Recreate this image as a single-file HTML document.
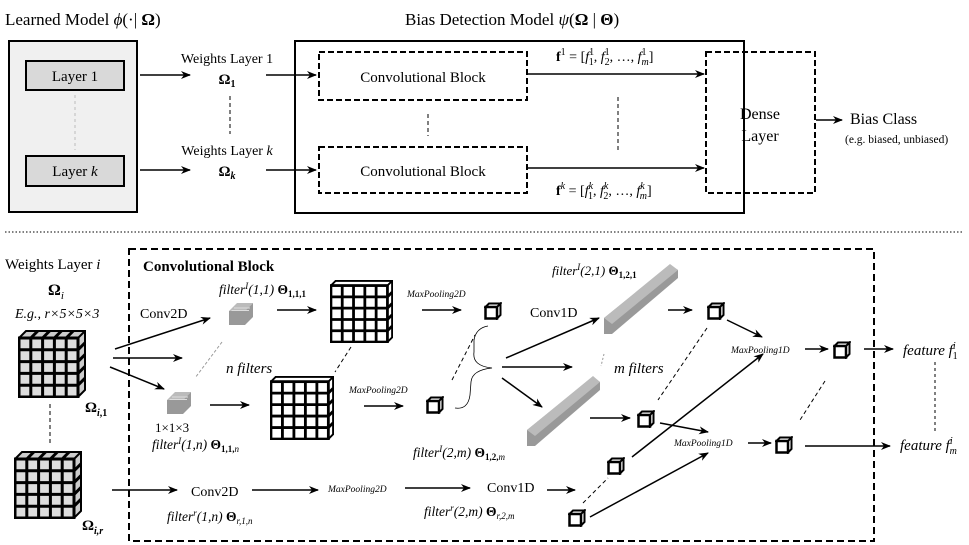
<!DOCTYPE html>
<html><head><meta charset="utf-8"><style>
html,body{margin:0;padding:0;background:#fff;}
svg{display:block;font-family:"Liberation Serif",serif;}
.i{font-style:italic}
</style></head><body>
<svg width="969" height="545" viewBox="0 0 969 545" xmlns="http://www.w3.org/2000/svg">
<defs>
<marker id="a" markerWidth="10" markerHeight="8" refX="9" refY="4" orient="auto" markerUnits="userSpaceOnUse"><path d="M0,0 L10,4 L0,8 L3,4z" fill="#000"/></marker>
<symbol id="big" viewBox="0 0 68 68">
<path d="M1,8 L8,1 L67,1 L60,8z M60,8 L67,1 L67,60 L60,67z" fill="#ccc" stroke="#000" stroke-width="2"/>
<rect x="1" y="8" width="59" height="59" fill="#ddd" stroke="#000" stroke-width="3"/>
<path d="M12.8,8V67M24.6,8V67M36.4,8V67M48.2,8V67M1,19.8H60M1,31.6H60M1,43.4H60M1,55.2H60M60,19.8L67,12.8M60,31.6L67,24.6M60,43.4L67,36.4M60,55.2L67,48.2M12.8,8L19.8,1M24.6,8L31.6,1M36.4,8L43.4,1M48.2,8L55.2,1" stroke="#000" stroke-width="3"/>
</symbol>
<symbol id="grid" viewBox="0 0 68 68">
<path d="M1,6 L6,1 L67,1 L62,6z M62,6 L67,1 L67,62 L62,67z" fill="#fff" stroke="#000" stroke-width="2"/>
<rect x="1" y="6" width="61" height="61" fill="#fff" stroke="#000" stroke-width="3"/>
<path d="M13.2,6V67M25.4,6V67M37.6,6V67M49.8,6V67M1,18.2H62M1,30.4H62M1,42.6H62M1,54.8H62M62,18.2L67,13.2M62,30.4L67,25.4M62,42.6L67,37.6M62,54.8L67,49.8" stroke="#000" stroke-width="3"/>
</symbol>
<symbol id="sc" viewBox="0 0 18 18">
<path d="M1.5,5 L5,1.5 L16.5,1.5 L13,5z M13,5 L16.5,1.5 L16.5,13 L13,16.5z" fill="#fff" stroke="#000" stroke-width="2"/>
<rect x="1.5" y="5" width="11.5" height="11.5" fill="#fff" stroke="#000" stroke-width="2.5"/>
</symbol>
<symbol id="gf" viewBox="0 0 26 24">
<path d="M1,9 L9,1 L25,1 L17,9z" fill="#bbb"/><path d="M17,9 L25,1 L25,15 L17,23z" fill="#999"/>
<rect x="1" y="9" width="16" height="14" fill="#999"/>
<path d="M6,6 L22,6 M3.5,8.5 L21,8.5" stroke="#ddd" stroke-width="1"/>
</symbol>
</defs>
<!-- TOP -->
<text x="5" y="25" font-size="17">Learned Model <tspan class="i">ϕ</tspan>(·| <tspan font-weight="bold">Ω</tspan>)</text>
<text x="405" y="25" font-size="17">Bias Detection Model <tspan class="i">ψ</tspan>(<tspan font-weight="bold">Ω</tspan> | <tspan font-weight="bold">Θ</tspan>)</text>
<rect x="9" y="41" width="128" height="171" fill="#f0f0f0" stroke="#000" stroke-width="2"/>
<rect x="26" y="61" width="98" height="29" fill="#d9d9d9" stroke="#000" stroke-width="2"/>
<text x="75" y="81" font-size="15" text-anchor="middle">Layer 1</text>
<rect x="26" y="156" width="98" height="30" fill="#d9d9d9" stroke="#000" stroke-width="2"/>
<text x="75" y="176" font-size="15" text-anchor="middle">Layer <tspan class="i">k</tspan></text>
<line x1="75" y1="95" x2="75" y2="150" stroke="#bbb" stroke-dasharray="3,3"/>
<g stroke="#000" stroke-width="1.5" fill="none" marker-end="url(#a)">
<line x1="140" y1="75" x2="190" y2="75"/><line x1="140" y1="170" x2="190" y2="170"/>
<line x1="266" y1="75" x2="316" y2="75"/><line x1="266" y1="170" x2="316" y2="170"/>
<line x1="528" y1="74" x2="704" y2="74"/><line x1="528" y1="168" x2="704" y2="168"/>
<line x1="816" y1="120" x2="842" y2="120"/>
</g>
<text x="227" y="63" font-size="14" text-anchor="middle">Weights Layer 1</text>
<text x="227" y="84" font-size="15" font-weight="bold" text-anchor="middle">Ω<tspan font-size="10" dy="3">1</tspan></text>
<text x="227" y="155" font-size="14" text-anchor="middle">Weights Layer <tspan class="i">k</tspan></text>
<text x="227" y="176" font-size="15" font-weight="bold" text-anchor="middle">Ω<tspan font-size="10" dy="3" class="i">k</tspan></text>
<line x1="230" y1="96" x2="230" y2="134" stroke="#000" stroke-dasharray="4,3"/>
<rect x="295" y="41" width="449" height="172" fill="none" stroke="#000" stroke-width="2"/>
<rect x="319" y="52" width="208" height="48" fill="none" stroke="#000" stroke-width="2" stroke-dasharray="6,3"/>
<text x="423" y="82" font-size="15" text-anchor="middle">Convolutional Block</text>
<rect x="319" y="147" width="208" height="46" fill="none" stroke="#000" stroke-width="2" stroke-dasharray="6,3"/>
<text x="423" y="176" font-size="15" text-anchor="middle">Convolutional Block</text>
<line x1="428" y1="114" x2="428" y2="136" stroke="#000" stroke-dasharray="4,3"/>
<line x1="618" y1="97" x2="618" y2="152" stroke="#000" stroke-dasharray="4,3"/>
<text x="556" y="61" font-size="14"><tspan font-weight="bold">f</tspan><tspan font-size="10" dy="-6">1</tspan><tspan dy="6"> = [</tspan><tspan class="i">f</tspan><tspan font-size="10" dy="-6">1</tspan><tspan font-size="10" dx="-5" dy="10">1</tspan><tspan dy="-4">, </tspan><tspan class="i">f</tspan><tspan font-size="10" dy="-6">1</tspan><tspan font-size="10" dx="-5" dy="10">2</tspan><tspan dy="-4">, …, </tspan><tspan class="i">f</tspan><tspan font-size="10" dy="-6">1</tspan><tspan font-size="10" class="i" dx="-5" dy="10">m</tspan><tspan dy="-4">]</tspan></text>
<text x="556" y="195" font-size="14"><tspan font-weight="bold">f</tspan><tspan font-size="10" dy="-6" class="i">k</tspan><tspan dy="6"> = [</tspan><tspan class="i">f</tspan><tspan font-size="10" dy="-6" class="i">k</tspan><tspan font-size="10" dx="-5" dy="10">1</tspan><tspan dy="-4">, </tspan><tspan class="i">f</tspan><tspan font-size="10" dy="-6" class="i">k</tspan><tspan font-size="10" dx="-5" dy="10">2</tspan><tspan dy="-4">, …, </tspan><tspan class="i">f</tspan><tspan font-size="10" dy="-6" class="i">k</tspan><tspan font-size="10" class="i" dx="-5" dy="10">m</tspan><tspan dy="-4">]</tspan></text>
<rect x="706" y="52" width="109" height="141" fill="none" stroke="#000" stroke-width="2" stroke-dasharray="6,3"/>
<text x="760" y="119" font-size="16" text-anchor="middle">Dense</text>
<text x="760" y="141" font-size="16" text-anchor="middle">Layer</text>
<text x="850" y="124" font-size="16">Bias Class</text>
<text x="845" y="143" font-size="11.5">(e.g. biased, unbiased)</text>
<line x1="5" y1="232" x2="962" y2="232" stroke="#000" stroke-dasharray="1.5,2"/>
<!-- BOTTOM -->
<rect x="129" y="249" width="745" height="292" fill="none" stroke="#000" stroke-width="2" stroke-dasharray="7,4"/>
<text x="5" y="269" font-size="15">Weights Layer <tspan class="i">i</tspan></text>
<text x="48" y="295" font-size="16" font-weight="bold">Ω<tspan font-size="11" dy="4" class="i" font-weight="normal">i</tspan></text>
<text x="15" y="318" font-size="14" class="i">E.g., r×5×5×3</text>
<use href="#big" x="18" y="330" width="68" height="68"/>
<use href="#big" x="14" y="451" width="68" height="68"/>
<text x="85" y="412" font-size="15" font-weight="bold">Ω<tspan font-size="10" dy="4" class="i">i</tspan><tspan font-size="10" dy="0">,1</tspan></text>
<text x="82" y="530" font-size="15" font-weight="bold">Ω<tspan font-size="10" dy="4" class="i">i,r</tspan></text>
<line x1="50" y1="404" x2="50" y2="444" stroke="#000" stroke-dasharray="4,3"/>
<text x="143" y="271" font-size="15" font-weight="bold">Convolutional Block</text>
<text x="140" y="318" font-size="14">Conv2D</text>
<g stroke="#000" stroke-width="1.5" fill="none" marker-end="url(#a)">
<line x1="115" y1="349" x2="210" y2="318"/><line x1="113" y1="358" x2="182" y2="358"/><line x1="110" y1="367" x2="164" y2="389"/>
<line x1="277" y1="310" x2="316" y2="310"/><line x1="210" y1="405" x2="249" y2="405"/>
<line x1="422" y1="310" x2="461" y2="310"/><line x1="364" y1="406" x2="403" y2="406"/>
<line x1="506" y1="358" x2="599" y2="318"/><line x1="502" y1="367" x2="572" y2="367"/><line x1="502" y1="378" x2="542" y2="407"/>
<line x1="668" y1="310" x2="692" y2="310"/><line x1="727" y1="320" x2="762" y2="337"/>
<line x1="805" y1="349" x2="828" y2="349"/>
<line x1="590" y1="418" x2="630" y2="418"/><line x1="660" y1="423" x2="708" y2="432"/>
<line x1="748" y1="443" x2="771" y2="443"/>
<line x1="632" y1="457" x2="763" y2="354"/><line x1="590" y1="517" x2="708" y2="453"/>
<line x1="112" y1="490" x2="177" y2="490"/><line x1="252" y1="490" x2="318" y2="490"/><line x1="405" y1="488" x2="470" y2="488"/>
<line x1="547" y1="490" x2="575" y2="490"/>
<line x1="864" y1="349" x2="893" y2="349"/><line x1="805" y1="446" x2="890" y2="446"/>
</g>
<use href="#gf" x="228" y="302" width="26" height="24"/>
<use href="#gf" x="166" y="391" width="26" height="24"/>
<line x1="222" y1="342" x2="195" y2="378" stroke="#999" stroke-dasharray="3,2"/>
<text x="219" y="294" font-size="13.5" class="i">filter<tspan font-size="9" dy="-5">I</tspan><tspan dy="5">(1,1) </tspan><tspan font-weight="bold" font-style="normal">Θ</tspan><tspan font-size="9" font-weight="bold" font-style="normal" dy="3">1,1,1</tspan></text>
<text x="226" y="373" font-size="15" class="i">n filters</text>
<text x="155" y="432" font-size="13">1×1×3</text>
<text x="152" y="449" font-size="13.5" class="i">filter<tspan font-size="9" dy="-5">I</tspan><tspan dy="5">(1,n) </tspan><tspan font-weight="bold" font-style="normal">Θ</tspan><tspan font-size="9" font-weight="bold" font-style="normal" dy="3">1,1,</tspan><tspan font-size="9" dy="0">n</tspan></text>
<use href="#grid" x="330" y="280" width="63" height="63"/>
<use href="#grid" x="270" y="376" width="64" height="64"/>
<line x1="351" y1="347" x2="335" y2="372" stroke="#000" stroke-dasharray="4,3"/>
<text x="407" y="297" font-size="9.5" class="i">MaxPooling2D</text>
<text x="349" y="393" font-size="9.5" class="i">MaxPooling2D</text>
<use href="#sc" x="426" y="396" width="18" height="18"/>
<use href="#sc" x="484" y="302" width="18" height="18"/>
<line x1="452" y1="380" x2="475" y2="335" stroke="#000" stroke-dasharray="4,3"/>
<path d="M455,408 Q468,410 470,395 L471,382 Q472,370 492,368 Q472,366 474,352 L474,340 Q476,328 488,326" fill="none" stroke="#000" stroke-width="0.8"/>
<text x="530" y="317" font-size="14">Conv1D</text>
<polygon points="604,318 670,265 678,270 678,278 612,334 604,334" fill="#999"/>
<polygon points="604,318 670,264 678,270 612,324" fill="#bbb"/>
<polygon points="527,430 593,377 600,382 600,390 535,446 527,446" fill="#999"/>
<polygon points="527,430 593,376 600,382 535,436" fill="#bbb"/>
<text x="552" y="275" font-size="13" class="i">filter<tspan font-size="9" dy="-5">I</tspan><tspan dy="5">(2,1) </tspan><tspan font-weight="bold" font-style="normal">Θ</tspan><tspan font-size="9" font-weight="bold" font-style="normal" dy="3">1,2,1</tspan></text>
<text x="614" y="373" font-size="15" class="i">m filters</text>
<line x1="604" y1="354" x2="601" y2="366" stroke="#999" stroke-dasharray="2,2"/>
<text x="413" y="457" font-size="13.5" class="i">filter<tspan font-size="9" dy="-5">I</tspan><tspan dy="5">(2,m) </tspan><tspan font-weight="bold" font-style="normal">Θ</tspan><tspan font-size="9" font-weight="bold" font-style="normal" dy="3">1,2,</tspan><tspan font-size="9">m</tspan></text>
<use href="#sc" x="707" y="302" width="18" height="18"/>
<line x1="707" y1="328" x2="658" y2="400" stroke="#000" stroke-dasharray="4,3"/>
<text x="731" y="353" font-size="9.5" class="i">MaxPooling1D</text>
<use href="#sc" x="833" y="341" width="18" height="18"/>
<use href="#sc" x="637" y="410" width="18" height="18"/>
<text x="674" y="446" font-size="9.5" class="i">MaxPooling1D</text>
<use href="#sc" x="775" y="436" width="18" height="18"/>
<line x1="825" y1="381" x2="800" y2="420" stroke="#000" stroke-dasharray="4,3"/>
<use href="#sc" x="607" y="457" width="18" height="18"/>
<use href="#sc" x="568" y="509" width="18" height="18"/>
<line x1="583" y1="503" x2="608" y2="478" stroke="#000" stroke-dasharray="4,3"/>
<text x="191" y="496" font-size="14">Conv2D</text>
<text x="328" y="492" font-size="9.5" class="i">MaxPooling2D</text>
<text x="167" y="521" font-size="13.5" class="i">filter<tspan font-size="9" dy="-5">r</tspan><tspan dy="5">(1,n) </tspan><tspan font-weight="bold" font-style="normal">Θ</tspan><tspan font-size="9" dy="3">r,1,n</tspan></text>
<text x="487" y="492" font-size="14">Conv1D</text>
<text x="424" y="516" font-size="13.5" class="i">filter<tspan font-size="9" dy="-5">r</tspan><tspan dy="5">(2,m) </tspan><tspan font-weight="bold" font-style="normal">Θ</tspan><tspan font-size="9" dy="3">r,2,m</tspan></text>
<text x="903" y="355" font-size="15" class="i">feature f<tspan font-size="10" dy="-6">i</tspan><tspan font-size="10" font-style="normal" dx="-3" dy="10">1</tspan></text>
<text x="900" y="450" font-size="15" class="i">feature f<tspan font-size="10" dy="-6">i</tspan><tspan font-size="10" dx="-3" dy="10">m</tspan></text>
<line x1="935" y1="362" x2="935" y2="432" stroke="#000" stroke-dasharray="3,3"/>
</svg>
</body></html>
